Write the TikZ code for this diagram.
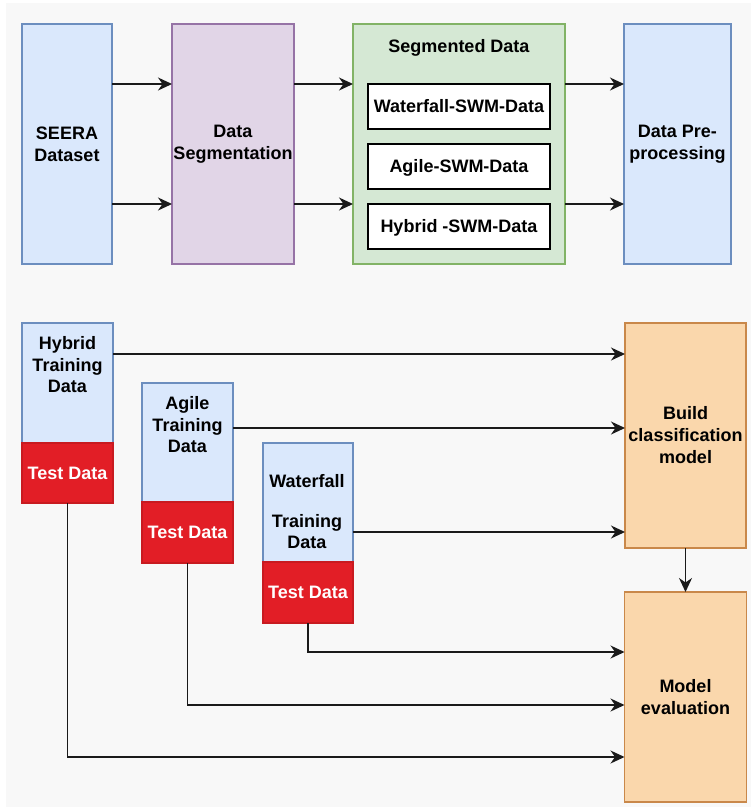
\documentclass[tikz,border=0pt]{standalone}
\usepackage{fontspec}
\setmainfont{Liberation Sans}
\usetikzlibrary{arrows.meta,positioning}
\definecolor{bgc}{HTML}{F8F8F8}
\definecolor{bluef}{HTML}{DAE8FC}\definecolor{blued}{HTML}{6C8EBF}
\definecolor{purf}{HTML}{E1D5E7}\definecolor{purd}{HTML}{9673A6}
\definecolor{grnf}{HTML}{D5E8D4}\definecolor{grnd}{HTML}{82B366}
\definecolor{orgf}{HTML}{FAD7AC}\definecolor{orgd}{HTML}{C9884A}
\definecolor{redf}{HTML}{E21E26}\definecolor{redd}{HTML}{C81A20}
\definecolor{linec}{HTML}{1A1A1A}
\tikzset{
  box/.style={rectangle, inner sep=0pt, outer sep=0pt, line width=1.1pt, align=center,
    font=\bfseries\fontsize{18}{22}\selectfont},
  bluebox/.style={box, fill=bluef, draw=blued},
  purbox/.style={box, fill=purf, draw=purd},
  grnbox/.style={box, fill=grnf, draw=grnd},
  orgbox/.style={box, fill=orgf, draw=orgd},
  redbox/.style={box, fill=redf, draw=redd, text=white, text height=12.7pt, text depth=0pt},
  whitebox/.style={box, fill=white, draw=black, line width=1.2pt, text height=12.7pt, text depth=0pt},
  txt/.style={inner sep=0pt, outer sep=0pt, align=center, font=\bfseries\fontsize{18}{21.5}\selectfont},
  arr/.style={draw=linec, line width=1.3pt, -{Stealth[length=14pt,width=13pt,inset=4.5pt]}},
}
\begin{document}
\begin{tikzpicture}[x=1pt,y=-1pt]
\useasboundingbox (0,0) rectangle (751,807);
\fill[white] (0,0) rectangle (751,807);
\fill[bgc] (6,3) rectangle (751,807);

% top row
\node[bluebox, minimum width=90pt, minimum height=240pt] (seera) at (67,144) {SEERA\\Dataset};
\node[purbox, minimum width=122pt, minimum height=240pt] (dseg) at (233,144) {Data\\Segmentation};
\node[grnbox, minimum width=212pt, minimum height=240pt] (seg) at (459,144) {};
\node[txt, anchor=base] (segtxt) at (459,52) {Segmented Data};
\node[whitebox, minimum width=182pt, minimum height=45pt] (wf) at (459,106.5) {Waterfall-SWM-Data};
\node[whitebox, minimum width=182pt, minimum height=45pt] (ag) at (459,166.5) {Agile-SWM-Data};
\node[whitebox, minimum width=182pt, minimum height=45pt] (hy) at (459,226.5) {Hybrid -SWM-Data};
\node[bluebox, minimum width=107pt, minimum height=240pt] (pre) at (677.5,144) {Data Pre-\\processing};

\draw[arr] (seera.east |- wf.north) -- (dseg.west |- wf.north);
\draw[arr] (seera.east |- hy.north) -- (dseg.west |- hy.north);
\draw[arr] (dseg.east |- wf.north) -- (seg.west |- wf.north);
\draw[arr] (dseg.east |- hy.north) -- (seg.west |- hy.north);
\draw[arr] (seg.east |- wf.north) -- (pre.west |- wf.north);
\draw[arr] (seg.east |- hy.north) -- (pre.west |- hy.north);

% bottom
\node[bluebox, minimum width=91pt, minimum height=120pt] (hybT) at (67.5,383) {};
\node[redbox, minimum width=91pt, minimum height=60pt] (hybX) at (67.5,473) {Test Data};
\node[txt] (hybtxt) at (67.5,365) {Hybrid\\Training\\Data};

\node[bluebox, minimum width=91pt, minimum height=119pt] (agT) at (187.5,442.5) {};
\node[redbox, minimum width=91pt, minimum height=61pt] (agX) at (187.5,532.5) {Test Data};
\node[txt] (agtxt) at (187.5,425) {Agile\\Training\\Data};

\node[bluebox, minimum width=90pt, minimum height=119pt] (wfT) at (308,502.5) {};
\node[redbox, minimum width=90pt, minimum height=61pt] (wfX) at (308,592.5) {Test Data};
\node[txt] (wftxt) at (307,511.5) {Waterfall\\[18.5pt]Training\\Data};

\node[orgbox, minimum width=121pt, minimum height=225pt] (build) at (685.5,435.5) {Build\\classification\\model};
\node[orgbox, minimum width=122pt, minimum height=210pt] (eval) at (685.5,697) {Model\\evaluation};

\draw[arr] ([yshift=-31pt]hybT.north east) coordinate (h1) -- (h1 -| build.west);
\draw[arr] ([yshift=-45pt]agT.north east) coordinate (a1) -- (a1 -| build.west);
\draw[arr] ([yshift=-89pt]wfT.north east) coordinate (w1) -- (w1 -| build.west);
\draw[arr] (build.south) -- (eval.north);

\draw[arr] (wfX.south) |- ([yshift=-60pt]eval.north west);
\draw[arr] (agX.south) |- ([yshift=-113pt]eval.north west);
\draw[arr] (hybX.south) |- ([yshift=-165pt]eval.north west);
\end{tikzpicture}
\end{document}
